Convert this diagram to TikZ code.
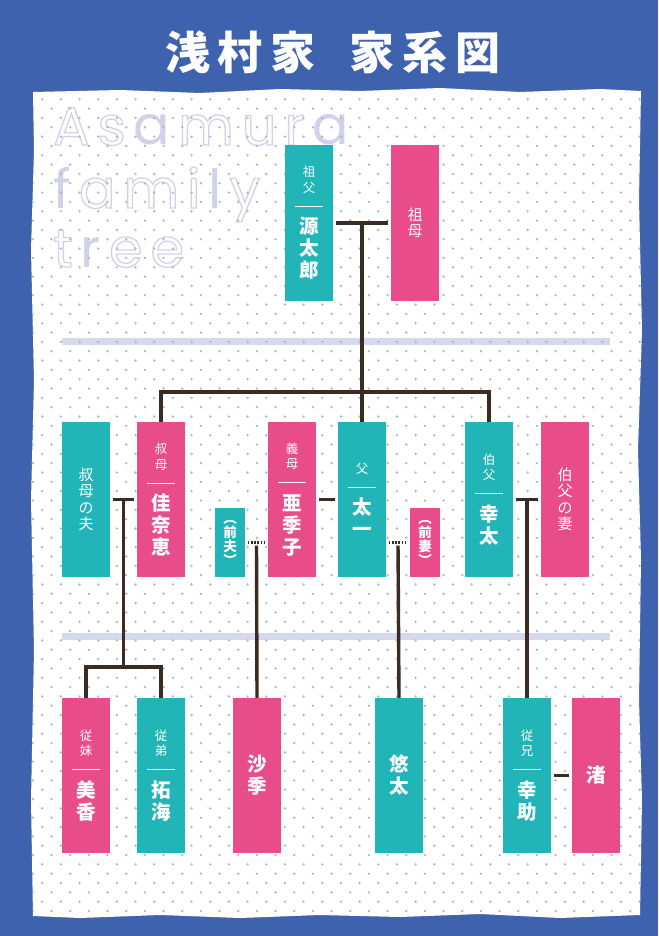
\documentclass[tikz,border=0pt]{standalone}
\usepackage{fontspec}
\usepackage{xcolor}
\usepackage{tikz}

\newfontfamily\cjk{Noto Sans CJK JP}
\newfontfamily\wmfont{Poppins}

\definecolor{bgblue}{HTML}{3F62AE}
\definecolor{kinteal}{HTML}{22B5B8}
\definecolor{kinpink}{HTML}{E84D8A}
\definecolor{lineclr}{HTML}{3A2B24}
\definecolor{rulelav}{HTML}{D6D9EE}
\definecolor{dotgray}{HTML}{B5B7C6}
\definecolor{wmlav}{HTML}{D0D3E8}

% label, rule, name -- stacked upright
\newcommand{\kin}[2]{%
{\fontsize{12.5}{15.5}\selectfont #1\par}\vspace{2.3pt}%
\rule{28pt}{0.8pt}\par\vspace{5pt}%
{\fontsize{19.5}{22}\selectfont\bfseries #2\par}}
\newcommand{\nm}[1]{{\fontsize{19.5}{22}\selectfont\bfseries #1\par}}
\newcommand{\rel}[1]{{\fontsize{15}{16.5}\selectfont #1\par}}
\newcommand{\ex}[1]{{\fontsize{13.5}{14}\selectfont\bfseries #1\par}}
\newcommand{\outl}[1]{\special{pdf:literal direct 1 Tr 1.3 w}#1\special{pdf:literal direct 0 Tr}}
\newcommand{\ws}{\hspace{8pt}}

\begin{document}
\begin{tikzpicture}[x=1pt, y=-1pt,
  kinbox/.style={inner sep=0pt, minimum width=48pt, minimum height=155pt,
    text width=44pt, align=center, text=white, font=\cjk},
  male/.style={kinbox, fill=kinteal},
  female/.style={kinbox, fill=kinpink},
  exbox/.style={minimum width=30pt, minimum height=69pt, text width=28pt},
  famline/.style={draw=lineclr, line width=3.4pt},
  exline/.style={draw=lineclr, line width=2.5pt, dash pattern=on 1.6pt off 1.6pt},
  gap/.style={shorten <=2.5pt, shorten >=2.5pt},
  wmark/.style={anchor=base west, inner sep=0pt, text=wmlav,
    font=\wmfont\fontsize{54}{54}\selectfont}]
\def\paperpath{(33,92) -- (120,90) -- (200,93) -- (280,89) -- (360,91) -- (440,88)
  -- (520,92) -- (600,89) -- (641,91) -- (639,200) -- (642,330) -- (638,450)
  -- (641,560) -- (639,700) -- (642,800) -- (640,915) -- (560,918) -- (480,914)
  -- (400,917) -- (320,915) -- (240,918) -- (160,915) -- (80,918) -- (33,916)
  -- (31,800) -- (34,650) -- (31,500) -- (34,380) -- (31,250) -- (34,150) -- cycle}

\useasboundingbox (0,0) rectangle (658,936);
\fill[bgblue] (0,0) rectangle (658,936);

\node[text=white, font=\cjk\bfseries\fontsize{45}{45}\selectfont] (title) at (333,52)
  {浅\hspace{8pt}村\hspace{8pt}家\hspace{34pt}家\hspace{8pt}系\hspace{8pt}図};

% PAPER
\fill[white] \paperpath;
\fill[rulelav] (62,338) rectangle (610,345);
\fill[rulelav] (62,633) rectangle (610,640);

\node[wmark] (wm1) at (53,145) {\outl{A}\ws\outl{s}\ws a\ws\outl{m}\ws\outl{u}\ws\outl{r}\ws a};
\node[wmark] (wm2) at (53,208) {f\ws\outl{a}\ws\outl{m}\ws\outl{i}\ws l\ws\outl{y}};
\node[wmark] (wm3) at (53,267) {\outl{t}\ws r\ws\outl{e}\ws\outl{e}};

\begin{scope}
\clip \paperpath;
\foreach \i in {0,...,88}{
  \foreach \j in {-1,...,32}{
    \fill[dotgray] ({42.2+18.67*\j+9.33*mod(\i,2)}, {99.3+9.33*\i}) circle (1.35pt);
  }
}
\end{scope}

\begin{scope} % FIRST ROW
\node[male] (sofu) at (309,223) {\kin{祖\\父}{源\\太\\郎}};
\node[female] (sobo) at (415,223) {\rel{祖\\母}};
\end{scope}

\begin{scope} % SECOND ROW
\node[male] (obaotto) at (86,499.5) {\rel{叔\\母\\の\\夫}};
\node[female] (oba) at (161,499.5) {\kin{叔\\母}{佳\\奈\\恵}};
\node[male, exbox] (zenpu) at (230,542.5) {\ex{︵\\前\\夫\\︶}};
\node[female] (akiko) at (292,499.5) {\kin{義\\母}{亜\\季\\子}};
\node[male] (chichi) at (362,499.5) {\kin{父}{太\\一}};
\node[female, exbox] (zensai) at (425,542.5) {\ex{︵\\前\\妻\\︶}};
\node[male] (hakufu) at (489,499.5) {\kin{伯\\父}{幸\\太}};
\node[female] (hakubo) at (565,499.5) {\rel{伯\\父\\の\\妻}};
\end{scope}

\begin{scope} % THIRD ROW
\node[female] (mika) at (86,775.5) {\kin{従\\妹}{美\\香}};
\node[male] (takumi) at (161,775.5) {\kin{従\\弟}{拓\\海}};
\node[female] (saki) at (257,775.5) {\nm{沙\\季}};
\node[male] (yuta) at (399,775.5) {\nm{悠\\太}};
\node[male] (kosuke) at (527,775.5) {\kin{従\\兄}{幸\\助}};
\node[female] (nagisa) at (596,775.5) {\nm{渚}};
\end{scope}

% grandparents and their children
\draw[famline, gap] (sofu) -- (sobo);
\path (sofu.east) -- (sobo.west) coordinate[midway] (gpmid);
\draw[famline] (gpmid) -- (chichi.north);
\draw[famline] (oba.north) -- ++(0,-30) -| (hakufu.north);

% aunt's family
\draw[famline, gap] (obaotto) -- (oba);
\path (obaotto.east) -- (oba.west) coordinate[midway] (m1);
\draw[famline] (mika.north) -- ++(0,-31) coordinate (kidbar) -| (takumi.north);
\draw[famline] (m1) -- (m1 |- kidbar);

% stepmother's side
\draw[exline, gap] (zenpu.east) -- (zenpu.east -| akiko.west);
\path (zenpu.east) -- (zenpu.east -| akiko.west) coordinate[midway] (m2);
\draw[famline, shorten <=3pt] (m2) -- (saki.north);
\draw[famline, gap] (akiko) -- (chichi);

% father's side
\draw[exline, gap] (zensai.west -| chichi.east) -- (zensai.west);
\path (zensai.west -| chichi.east) -- (zensai.west) coordinate[midway] (m3);
\draw[famline, shorten <=3pt] (m3) -- (yuta.north);

% uncle's family
\draw[famline, gap] (hakufu) -- (hakubo);
\path (hakufu.east) -- (hakubo.west) coordinate[midway] (m4);
\draw[famline] (m4) -- (kosuke.north);
\draw[famline, gap] (kosuke) -- (nagisa);
\end{tikzpicture}
\end{document}
